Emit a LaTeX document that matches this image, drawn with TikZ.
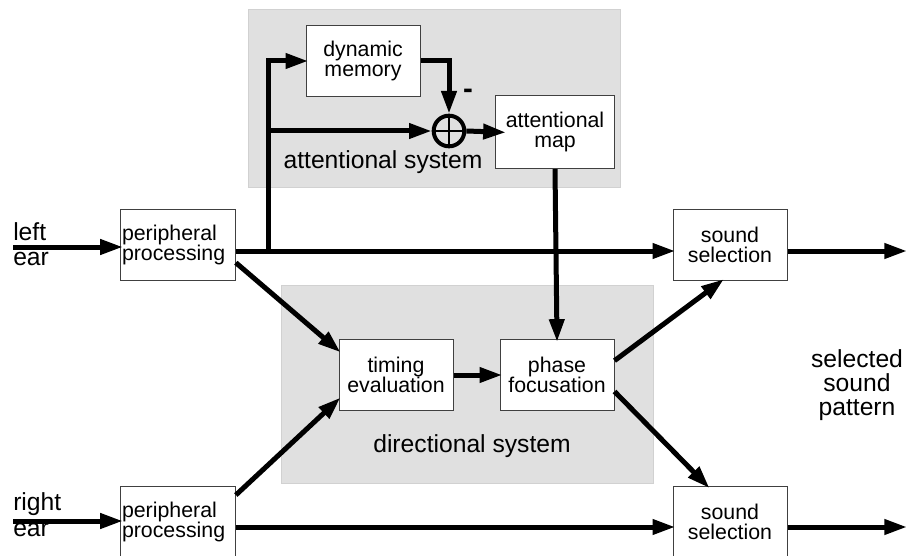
\documentclass[tikz,border=0pt]{standalone}
\usepackage{fontspec}
\setmainfont{Liberation Sans}
\usetikzlibrary{positioning}
\usetikzlibrary{arrows.meta}

\begin{document}
\begin{tikzpicture}[x=0.75pt, y=-0.75pt,
    block/.style = {draw=black!75, line width=0.75pt, fill=white, minimum width=85.5pt, minimum height=53pt, align=center, inner sep=1pt, font=\fontsize{16}{15.5}\selectfont},
    area/.style = {draw=black!18, fill=black!12, line width=0.75pt},
    lbl/.style = {inner sep=0pt, font=\fontsize{18.5}{18}\selectfont},
    wire/.style = {line width=3.75pt},
    arr/.style = {wire, -{Triangle[length=17pt,width=11pt]}, shorten >=-2pt}]
  \useasboundingbox (0,0) rectangle (909,556);
  % the two grey systems
  \draw[area] (248,10) rectangle (620,187);
  \draw[area] (281,285) rectangle (653,483);
  \node[lbl, anchor=base] (attsys) at (383,168) {attentional system};
  \node[lbl, anchor=base] (dirsys) at (472,452) {directional system};

  % blocks
  \node[block, text width=84pt, align=left] (pp1) at (178,245) {peripheral\\processing};
  \node[block, text width=84pt, align=left] (pp2) at (178,522) {peripheral\\processing};
  \node[block] (mem) at (363,61) {dynamic\\memory};
  \node[block, minimum width=89pt, minimum height=55pt] (map) at (555,132) {attentional\\map};
  \node[block] (tim) at (396,375) {timing\\evaluation};
  \node[block] (ph) [right=34.5pt of tim] {phase\\focusation};
  \node[block] (ss1) at (730,245) {sound\\selection};
  \node[block] (ss2) at (730,522) {sound\\selection};
  \node[draw, circle, line width=3pt, minimum size=23pt, inner sep=0pt] (sum) at (449,131) {};
  \draw[line width=2.2pt] (sum.north) -- (sum.south) (sum.west) -- (sum.east);
  \node[inner sep=0pt, font=\fontsize{22}{22}\selectfont\bfseries] (minus) at (468,94) {-};

  % ears and output
  \node[lbl, anchor=base west] (lleft) at (13,240) {left};
  \node[lbl, anchor=base west] (lear) at (13,265) {ear};
  \node[lbl, anchor=base west] (rright) at (13,510) {right};
  \node[lbl, anchor=base west] (rear) at (13,536) {ear};
  \node[lbl, align=center] (out) at (857,385) {selected\\sound\\pattern};
  \coordinate (lin) at (13,247);
  \coordinate (rin) at (13,521);
  \coordinate (lout) at (907,251);
  \coordinate (rout) at (907,527);
  \coordinate (j1) at (268,251);
  \coordinate (j2) at (268,131);

  % connections
  \draw[arr] (lin) -- (pp1.west |- lin);
  \draw[arr] (rin) -- (pp2.west |- rin);
  \draw[arr] (pp1.east |- lout) -- (ss1.west |- lout);
  \draw[arr] (pp2.east |- rout) -- (ss2.west |- rout);
  \draw[arr, shorten >=0pt] (ss1.east |- lout) -- (lout);
  \draw[arr, shorten >=0pt] (ss2.east |- rout) -- (rout);
  \draw[arr] (j1) |- (mem.west);
  \draw[arr, shorten >=0pt] (j2) -- (sum.west);
  \draw[arr, shorten >=0pt] (mem.east) -| (sum.north);
  \draw[arr, shorten >=-8pt] (sum.east) -- (map.west);
  \draw[arr] (map.south) -- (ph.north);
  \draw[arr] (pp1.-17) -- (tim.157);
  \draw[arr] (pp2.25) -- (tim.203);
  \draw[arr] (tim.east) -- (ph.west);
  \draw[arr] (ph.14) -- (ss1.257);
  \draw[arr] (ph.-16) -- (ss2.122);
\end{tikzpicture}
\end{document}
